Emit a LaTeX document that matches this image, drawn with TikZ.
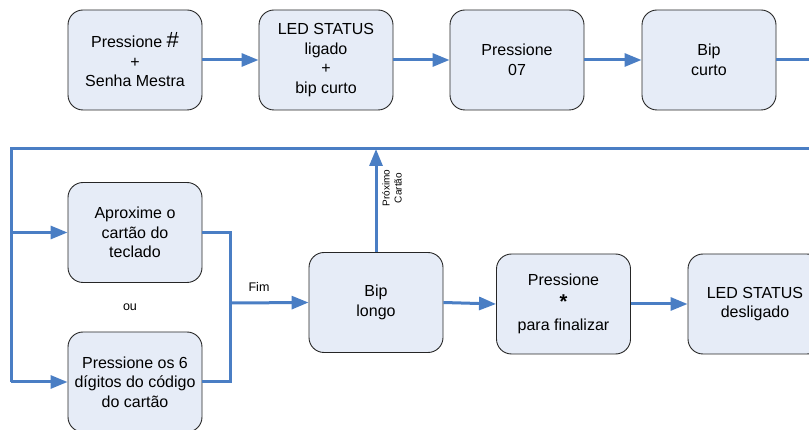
\documentclass[tikz,border=0pt]{standalone}
\usepackage{fontspec}
\setmainfont{Liberation Sans}
\usetikzlibrary{arrows.meta}
\definecolor{flowblue}{HTML}{4A7EC4}
\definecolor{boxfill}{HTML}{E6ECF7}
\tikzset{
  stepbox/.style={draw=black!85, line width=0.9pt, fill=boxfill, rounded corners=15pt,
    minimum width=134pt, minimum height=100pt, inner sep=0pt, align=center,
    font=\fontsize{16}{19.5}\selectfont},
  flow/.style={draw=flowblue, line width=3pt},
  flowarrow/.style={flow, -{Triangle[length=17pt,width=13pt]}},
  smalllabel/.style={font=\fontsize{12.5}{14}\selectfont, inner sep=0pt},
  tinylabel/.style={font=\fontsize{10}{12}\selectfont, inner sep=0pt, align=center},
}
\begin{document}
\begin{tikzpicture}[x=1pt,y=-1pt]
\useasboundingbox (0,0) rectangle (809,430);
% top row
\node[stepbox] (b1) at (135,60) {Pressione {\fontsize{22}{19.5}\selectfont\#}\\+\\Senha Mestra};
\node[stepbox] (b2) at (326,60) {LED STATUS\\ligado\\+\\bip curto};
\node[stepbox] (b3) at (517,60) {Pressione\\07};
\node[stepbox] (b4) at (709,60) {Bip\\curto};
\coordinate (b4out) at (812,60);
\draw[flowarrow] (b1.east) -- (b2.west);
\draw[flowarrow] (b2.east) -- (b3.west);
\draw[flowarrow] (b3.east) -- (b4.west);
\draw[flow] (b4.east) -- (b4out);
% bottom row
\node[stepbox] (ba) at (135,232.5) {Aproxime o\\cartão do\\teclado};
\node[stepbox] (bb) at (135,382) {Pressione os 6\\dígitos do código\\do cartão};
\node[smalllabel] (ou) at (130,307) {ou};
\node[stepbox] (bl) at (376,302.5) {Bip\\longo};
\node[stepbox] (bp) at (563.5,304) {Pressione\\[3pt]{\fontsize{20}{20}\selectfont\bfseries *}\\[3pt]para finalizar};
\node[stepbox] (bd) at (755,304) {LED STATUS\\desligado};
% loop line
\coordinate (tr) at (812,149);
\coordinate (tl) at (11,149);
\coordinate (la) at (11,232.5);
\coordinate (lb) at (11,382);
\coordinate (up) at (bl.north |- tl);
\draw[flow] (tr) -- (tl) -- (lb);
\draw[flowarrow] (la) -- (ba.west);
\draw[flowarrow] (lb) -- (bb.west);
% merge
\coordinate (ma) at (230,232.5);
\coordinate (mb) at (230,382);
\coordinate (mm) at (230,303);
\draw[flow] (ba.east) -- (ma) -- (mb) -- (bb.east);
\draw[flowarrow] (mm) -- (bl.west);
\node[smalllabel] (fim) at (259,287) {Fim};
\draw[flowarrow] (bl.north) -- (up);
\node[tinylabel, rotate=90] (prox) at (392,188) {Próximo\\Cartão};
\draw[flowarrow] (bl.east) -- (bp.west);
\draw[flowarrow] (bp.east) -- (bd.west);
\end{tikzpicture}
\end{document}
